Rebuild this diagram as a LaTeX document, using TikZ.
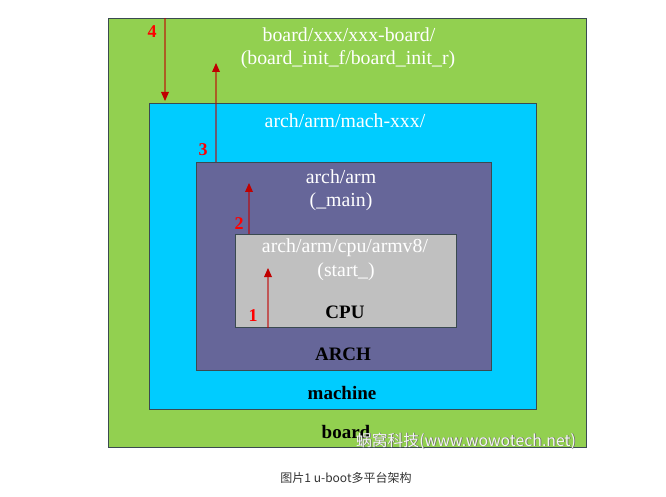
\documentclass[tikz,border=0pt]{standalone}
\usepackage{fontspec}
\setmainfont{Liberation Serif}
\newfontfamily\cjk{Noto Sans CJK SC}
\usetikzlibrary{arrows.meta,calc}
\definecolor{cBoard}{HTML}{92D050}
\definecolor{cMach}{HTML}{00CCFF}
\definecolor{cArch}{HTML}{666699}
\definecolor{cCpu}{HTML}{C0C0C0}
\definecolor{cEdge}{HTML}{3A4A50}
\definecolor{cArrow}{HTML}{C00000}
\tikzset{
  layer/.style={draw=cEdge, line width=1pt, inner sep=0pt, anchor=north west},
  pathtxt/.style={text=white, font=\fontsize{19.8}{19.8}\selectfont, inner sep=0pt, anchor=center},
  tag/.style={text=black, font=\fontsize{19}{19}\selectfont\bfseries, inner sep=0pt, anchor=center},
  num/.style={text=red, font=\fontsize{18}{18}\selectfont\bfseries, inner sep=0pt, anchor=center},
  flowline/.style={draw=cArrow, draw opacity=0.55, line width=1.2pt},
  flowtip/.style={draw=none, fill=cArrow},
  wmark/.style={font=\cjk\fontsize{15.8}{15.8}\selectfont, inner sep=0pt, anchor=center},
}
\begin{document}
\begin{tikzpicture}[x=1pt,y=-1pt]
\useasboundingbox (0,0) rectangle (666,497);
\fill[white] (0,0) rectangle (666,497);
% layers
\node[layer, fill=cBoard, minimum width=478pt, minimum height=429pt] (board) at (108,18) {};
\node[layer, fill=cMach, minimum width=387pt, minimum height=306pt] (mach) at (149,103) {};
\node[layer, fill=cArch, minimum width=295pt, minimum height=208pt] (arch) at (196,162) {};
\node[layer, fill=cCpu, minimum width=221pt, minimum height=93pt] (cpu) at (235,234) {};
% texts
\node[pathtxt] (t1) at (349,35) {board/xxx/xxx-board/};
\node[pathtxt] (t2) at (348,60) {(board\_init\_f/board\_init\_r)};
\node[pathtxt] (t3) at (345,121) {arch/arm/mach-xxx/};
\node[pathtxt] (t4) at (341,177) {arch/arm};
\node[pathtxt] (t5) at (341,202) {(\_main)};
\node[pathtxt] (t6) at (345,248) {arch/arm/cpu/armv8/};
\node[pathtxt] (t7) at (346,272) {(start\_)};
\node[tag] (l1) at (345,312) {CPU};
\node[tag] (l2) at (343,354) {ARCH};
\node[tag] (l3) at (342,393) {machine};
\node[tag] (l4) at (346,432) {board};
% arrows
\coordinate (a4) at (165,0);
\coordinate (a3) at (216,63);
\coordinate (a2) at (249,183);
\coordinate (a1) at (268,268);
\draw[flowline] (a4 |- board.north) -- ($(a4 |- mach.north)+(0,-8)$);
\fill[flowtip] ($(a4 |- mach.north)+(0,-2)$) -- ++(-4,-9) -- ++(8,0) -- cycle;
\draw[flowline] (a3 |- arch.north) -- ($(a3)+(0,8)$);
\fill[flowtip] (a3) -- ++(-4,9) -- ++(8,0) -- cycle;
\draw[flowline] (a2 |- cpu.north) -- ($(a2)+(0,8)$);
\fill[flowtip] (a2) -- ++(-4,9) -- ++(8,0) -- cycle;
\draw[flowline] (a1 |- cpu.south) -- ($(a1)+(0,8)$);
\fill[flowtip] (a1) -- ++(-4,9) -- ++(8,0) -- cycle;
\node[num] (n4) at (152,32) {4};
\node[num] (n3) at (203,150) {3};
\node[num] (n2) at (239,224) {2};
\node[num] (n1) at (253,316) {1};
% watermark
\node[wmark, text=gray!80!black] (wmshadow) at (466.7,441.7) {蜗窝科技(www.wowotech.net)};
\node[wmark, text=white!92!gray] (wm) at (466,441) {蜗窝科技(www.wowotech.net)};
% caption
\node[text=black!80, font=\cjk\fontsize{12}{12}\selectfont, inner sep=0pt, anchor=center] (cap) at (346,478) {图片1 u-boot多平台架构};
\end{tikzpicture}
\end{document}
